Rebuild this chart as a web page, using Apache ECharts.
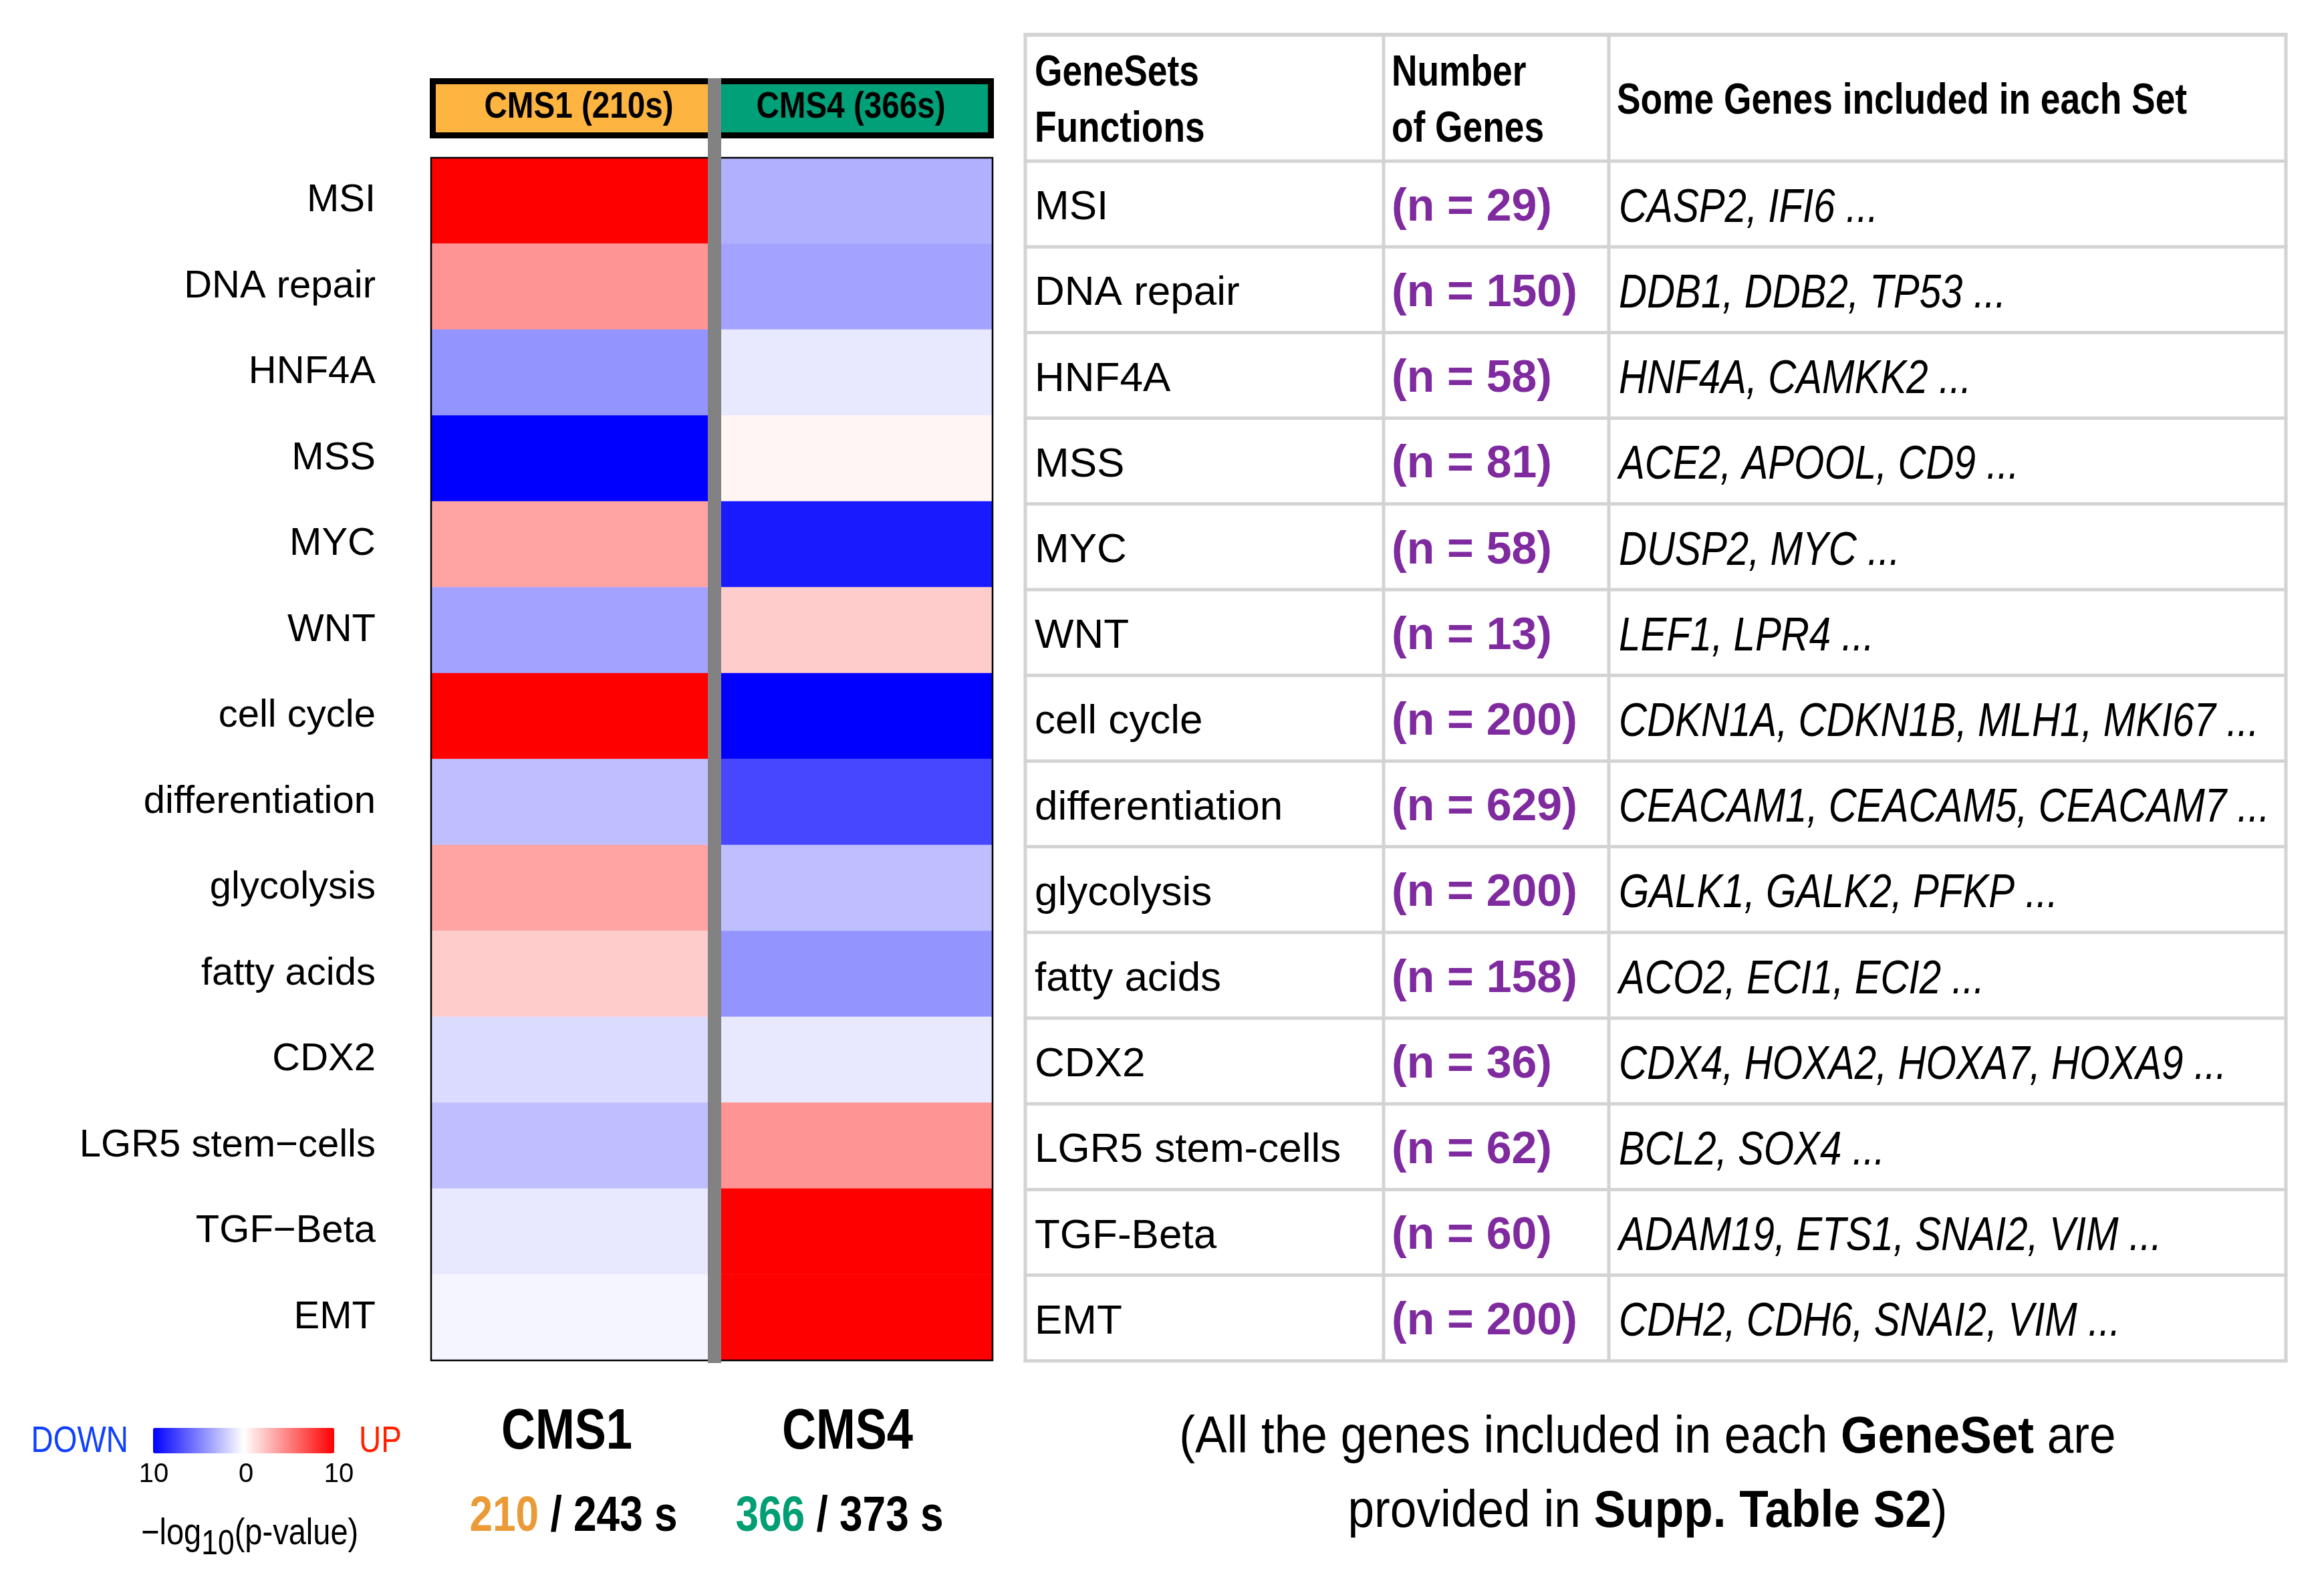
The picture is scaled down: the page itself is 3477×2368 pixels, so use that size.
<!DOCTYPE html>
<html>
<head>
<meta charset="utf-8">
<script src="https://cdn.jsdelivr.net/npm/echarts@6/dist/echarts.min.js"></script>
<style>
html,body{margin:0;padding:0;background:#ffffff;}
#chart{width:3477px;height:2368px;}
</style>
</head>
<body>
<div id="chart"></div>
<script>
// ---------------- data ----------------
const geneSets = ['MSI','DNA repair','HNF4A','MSS','MYC','WNT','cell cycle','differentiation','glycolysis','fatty acids','CDX2','LGR5 stem\u2212cells','TGF\u2212Beta','EMT'];
// signed -log10(p-value): positive = UP (red), negative = DOWN (blue)
const cms1Values = [10, 4.2, -4.2, -10, 3.6, -3.6, 10, -2.5, 3.6, 2.0, -1.4, -2.5, -0.9, -0.4];
const cms4Values = [-3.1, -3.6, -0.9, 0.4, -9.0, 2.0, -10, -7.2, -2.5, -4.2, -0.9, 4.2, 10, 10];
const groups = ['CMS1','CMS4'];
const groupHeaders = ['CMS1 (210s)','CMS4 (366s)'];
const groupSelected = [210, 366];
const groupTotal = [243, 373];
const tableHeaders = [['GeneSets','Functions'],['Number','of Genes'],['Some Genes included in each Set']];
const tableNames = ['MSI','DNA repair','HNF4A','MSS','MYC','WNT','cell cycle','differentiation','glycolysis','fatty acids','CDX2','LGR5 stem-cells','TGF-Beta','EMT'];
const geneCounts = [29,150,58,81,58,13,200,629,200,158,36,62,60,200];
const exampleGenes = ['CASP2, IFI6 ...','DDB1, DDB2, TP53 ...','HNF4A, CAMKK2 ...','ACE2, APOOL, CD9 ...','DUSP2, MYC ...','LEF1, LPR4 ...','CDKN1A, CDKN1B, MLH1, MKI67 ...','CEACAM1, CEACAM5, CEACAM7 ...','GALK1, GALK2, PFKP ...','ACO2, ECI1, ECI2 ...','CDX4, HOXA2, HOXA7, HOXA9 ...','BCL2, SOX4 ...','ADAM19, ETS1, SNAI2, VIM ...','CDH2, CDH6, SNAI2, VIM ...'];
const legendTicks = ['10','0','10'];
const legendEnds = ['DOWN','UP'];
const noteLines = [['(All the genes included in each ','GeneSet',' are'],['provided in ','Supp. Table S2',')']];

// ---------------- build ----------------
const FF = "'Liberation Sans', Arial, Helvetica, sans-serif";
const chart = echarts.init(document.getElementById('chart'), null, {renderer:'canvas', width:3477, height:2368});

const heatData = [];
geneSets.forEach((g, i) => {
  heatData.push([0, i, cms1Values[i]]);
  heatData.push([1, i, cms4Values[i]]);
});

const G = {left: 645, top: 236, width: 840, height: 1799};
const gfx = [];

function txt(o) {
  const st = Object.assign({
    fill: '#000', fontFamily: FF, fontSize: 56, fontWeight: 'normal', fontStyle: 'normal',
    textAlign: o.align || 'left', align: o.align || 'left',
    textVerticalAlign: 'middle', verticalAlign: 'middle'
  }, o.style || {});
  st.text = o.text;
  st.x = 0; st.y = 0;
  return {type: 'text', x: o.x, y: o.y, scaleX: o.sx || 1, scaleY: 1, z: 120, silent: true, style: st};
}

// heatmap border, header box, gray divider
gfx.push({type:'rect', z:110, silent:true, shape:{x:G.left, y:G.top, width:G.width, height:G.height}, style:{fill:'none', stroke:'#000', lineWidth:2.5}});
gfx.push({type:'rect', z:105, silent:true, shape:{x:643, y:117, width:844, height:90}, style:{fill:'#000'}});
gfx.push({type:'rect', z:106, silent:true, shape:{x:652, y:126, width:407, height:72}, style:{fill:'#FDB441'}});
gfx.push({type:'rect', z:106, silent:true, shape:{x:1079, y:126, width:399, height:72}, style:{fill:'#00A078'}});
gfx.push({type:'rect', z:115, silent:true, shape:{x:1059, y:117, width:20, height:1922}, style:{fill:'#828282'}});

const headCenters = [866, 1273];
groupHeaders.forEach((h, i) => {
  gfx.push(txt({x: headCenters[i], y: 161, text: h, align: 'center', sx: 0.85, style: {fontSize: 56, fontWeight: 'bold'}}));
});
// bottom group labels
const groupColors = ['#EB9A36', '#009E73'];
const bottomX = [848, 1268];
const countX = [858, 1256];
groups.forEach((g, i) => {
  gfx.push(txt({x: bottomX[i], y: 2144, text: g, align: 'center', sx: 0.83, style: {fontSize: 85, fontWeight: 'bold'}}));
  gfx.push(txt({x: countX[i], y: 2270, align: 'center', sx: 0.84,
    text: '{c|' + groupSelected[i] + '}{k| / ' + groupTotal[i] + ' s}',
    style: {fontSize: 74, fontWeight: 'bold', rich: {
      c: {fill: groupColors[i], fontSize: 74, fontWeight: 'bold', fontFamily: FF},
      k: {fill: '#000', fontSize: 74, fontWeight: 'bold', fontFamily: FF}
    }}}));
});

// legend texts
gfx.push(txt({x: 192, y: 2157, text: legendEnds[0], align: 'right', sx: 0.82, style: {fontSize: 56, fill: '#1040FF'}}));
gfx.push(txt({x: 537, y: 2157, text: legendEnds[1], align: 'left', sx: 0.82, style: {fontSize: 56, fill: '#FF2200'}}));
const tickX = [230, 368, 507];
legendTicks.forEach((t, i) => {
  gfx.push(txt({x: tickX[i], y: 2206, text: t, align: 'center', style: {fontSize: 40}}));
});
gfx.push(txt({x: 211, y: 2302, align: 'left', sx: 0.855,
  text: '{a|\u2212log}{s|10}{a|(p-value)}',
  style: {fontSize: 55, rich: {
    a: {fontSize: 55, fontFamily: FF, fill: '#000', verticalAlign: 'top'},
    s: {fontSize: 52, fontFamily: FF, fill: '#000', verticalAlign: 'top', padding: [18, 0, 0, 0]}
  }}}));

// ---------------- table ----------------
const T = {left: 1534, right: 3420, top: 52, headBottom: 241, rowH: 128.2, cols: [1534, 2070, 2407, 3420]};
const tBottom = T.headBottom + T.rowH * tableNames.length;
const lineC = '#D3D3D3';
gfx.push({type:'rect', z:50, silent:true, shape:{x:T.left - 2.5, y:T.top - 3, width:T.right - T.left + 5, height:6}, style:{fill:lineC}});
for (let i = 0; i <= tableNames.length; i++) {
  const yy = T.headBottom + i * T.rowH;
  gfx.push({type:'rect', z:50, silent:true, shape:{x:T.left - 2.5, y:yy - 2.5, width:T.right - T.left + 5, height:5}, style:{fill:lineC}});
}
T.cols.forEach(cx => {
  gfx.push({type:'rect', z:50, silent:true, shape:{x:cx - 2.5, y:T.top - 3, width:5, height:tBottom - T.top + 5.5}, style:{fill:lineC}});
});
// header
gfx.push(txt({x: 1548, y: 110, text: tableHeaders[0][0], sx: 0.82, style: {fontSize: 65, fontWeight: 'bold'}}));
gfx.push(txt({x: 1548, y: 194, text: tableHeaders[0][1], sx: 0.82, style: {fontSize: 65, fontWeight: 'bold'}}));
gfx.push(txt({x: 2082, y: 110, text: tableHeaders[1][0], sx: 0.82, style: {fontSize: 65, fontWeight: 'bold'}}));
gfx.push(txt({x: 2082, y: 194, text: tableHeaders[1][1], sx: 0.82, style: {fontSize: 65, fontWeight: 'bold'}}));
gfx.push(txt({x: 2419, y: 152, text: tableHeaders[2][0], sx: 0.82, style: {fontSize: 65, fontWeight: 'bold'}}));
// rows
tableNames.forEach((name, i) => {
  const cy = T.headBottom + (i + 0.5) * T.rowH + 6;
  gfx.push(txt({x: 1548, y: cy, text: name, style: {fontSize: 62}}));
  gfx.push(txt({x: 2082, y: cy, text: '(n = ' + geneCounts[i] + ')', style: {fontSize: 68, fontWeight: 'bold', fill: '#7F2A9F'}}));
  gfx.push(txt({x: 2422, y: cy + 1, text: exampleGenes[i], sx: 0.82, style: {fontSize: 71, fontStyle: 'italic'}}));
});

// footnote
const noteY = [2151, 2262];
noteLines.forEach((ln, i) => {
  gfx.push(txt({x: 2465, y: noteY[i], align: 'center', sx: 0.913,
    text: '{n|' + ln[0] + '}{b|' + ln[1] + '}{n|' + ln[2] + '}',
    style: {fontSize: 78, rich: {
      n: {fontSize: 78, fontFamily: FF, fill: '#000'},
      b: {fontSize: 78, fontFamily: FF, fill: '#000', fontWeight: 'bold'}
    }}}));
});

const option = {
  backgroundColor: '#ffffff',
  animation: false,
  grid: {left: G.left, top: G.top, width: G.width, height: G.height, containLabel: false},
  xAxis: {type: 'category', data: groups, axisLine: {show: false}, axisTick: {show: false}, axisLabel: {show: false}, splitLine: {show: false}},
  yAxis: {type: 'category', data: geneSets, inverse: true, axisLine: {show: false}, axisTick: {show: false}, splitLine: {show: false},
    axisLabel: {show: true, margin: 83, fontSize: 58, color: '#000', fontFamily: FF}},
  visualMap: {
    type: 'continuous', min: -10, max: 10, calculable: false, seriesIndex: 0,
    orient: 'horizontal', left: 229, top: 2136, itemWidth: 38, itemHeight: 271, padding: 0,
    text: null, showLabel: false,
    inRange: {color: ['#0000FF', '#FFFFFF', '#FF0000']}
  },
  series: [{
    type: 'heatmap', data: heatData, itemStyle: {borderWidth: 0}, emphasis: {disabled: true}, progressive: 0
  }],
  graphic: {elements: gfx}
};
chart.setOption(option);
</script>
</body>
</html>
